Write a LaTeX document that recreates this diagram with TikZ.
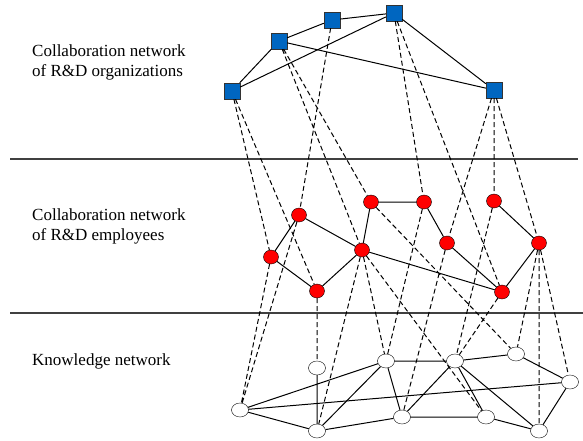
\documentclass[tikz,border=0pt]{standalone}
\usepackage{fontspec}
\setmainfont{Liberation Serif}
\newfontfamily\capfont{Liberation Serif}
\usepackage{tikz}
\usetikzlibrary{shapes.geometric}
\usepackage{xcolor}
\definecolor{orgblue}{RGB}{0,102,192}

\begin{document}
\begin{tikzpicture}[x=1pt,y=-1pt,
    org/.style={draw=black!80,fill=orgblue,rectangle,minimum size=16pt,inner sep=0pt},
    emp/.style={draw=black,fill=red,ellipse,minimum width=15pt,minimum height=14pt,inner sep=0pt},
    know/.style={draw=black,fill=white,ellipse,minimum width=17pt,minimum height=14pt,inner sep=0pt},
    tie/.style={line width=1pt},
    link/.style={line width=1pt,dash pattern=on 5pt off 3pt},
    layer/.style={line width=1.2pt,color=black!75},
    caption/.style={anchor=west,align=left,inner sep=0pt,font=\capfont\fontsize{17}{20}\selectfont}]

    \useasboundingbox (0,0) rectangle (583,441);

    %layers
    \draw [layer] (10,159) -- (578,159);
    \draw [layer] (10,313) -- (583,313);

    \node [caption] (capo) at (32,62) {Collaboration network\\of R\&D organizations};
    \node [caption] (cape) at (32,226) {Collaboration network\\of R\&D employees};
    \node [caption] (capk) at (32,361) {Knowledge network};

    %nodes
    \node [org] (o1) at (232,91) {};
    \node [org] (o2) at (279,41) {};
    \node [org] (o3) at (332,20) {};
    \node [org] (o4) at (394,13) {};
    \node [org] (o5) at (494,90) {};

    \node [emp] (r1) at (299,215) {};
    \node [emp] (r2) at (371,202) {};
    \node [emp] (r3) at (424,202) {};
    \node [emp] (r4) at (494,201) {};
    \node [emp] (r5) at (271,257) {};
    \node [emp] (r6) at (362,250) {};
    \node [emp] (r7) at (447,243) {};
    \node [emp] (r8) at (539,243) {};
    \node [emp] (r9) at (317,291) {};
    \node [emp] (r10) at (502,292) {};

    \node [know] (k1) at (240,410) {};
    \node [know] (k2) at (317,368) {};
    \node [know] (k3) at (386,361) {};
    \node [know] (k4) at (455,361) {};
    \node [know] (k5) at (516,354) {};
    \node [know] (k6) at (570,382) {};
    \node [know] (k7) at (317,431) {};
    \node [know] (k8) at (402,417) {};
    \node [know] (k9) at (486,417) {};
    \node [know] (k10) at (539,431) {};

    %ties inside layers
    \draw [tie] (o1) -- (o2) -- (o3) -- (o4) -- (o5) -- (o2);
    \draw [tie] (o1) -- (o4);

    \draw [tie] (r5) -- (r1) -- (r6) -- (r2) -- (r3) -- (r7) -- (r10) -- (r8) -- (r4);
    \draw [tie] (r5) -- (r9) -- (r6) -- (r10);

    \draw [tie] (k7) -- (k1) -- (k3) -- (k4) -- (k5) -- (k6) -- (k10) -- (k9) -- (k8) -- (k7) -- (k2);
    \draw [tie] (k1) -- (k6);
    \draw [tie] (k7) -- (k3) -- (k8) -- (k4) -- (k9);
    \draw [tie] (k4) -- (k10);

    %links between layers
    \draw [link] (o1) -- (r5) (o1) -- (r9) (o2) -- (r2) (o2) -- (r6) (o3) -- (r1);
    \draw [link] (o4) -- (r3) (o4) -- (r10) (o5) -- (r4) (o5) -- (r7) (o5) -- (r8);

    \draw [link] (r5) -- (k1) (r1) -- (k1) (r9) -- (k2) (r6) -- (k7) (r6) -- (k3) (r6) -- (k9);
    \draw [link] (r3) -- (k3) (r7) -- (k8) (r2) -- (k5) (r4) -- (k4) (r10) -- (k4);
    \draw [link] (r8) -- (k5) (r8) -- (k10) (r8) -- (k6);
\end{tikzpicture}
\end{document}
